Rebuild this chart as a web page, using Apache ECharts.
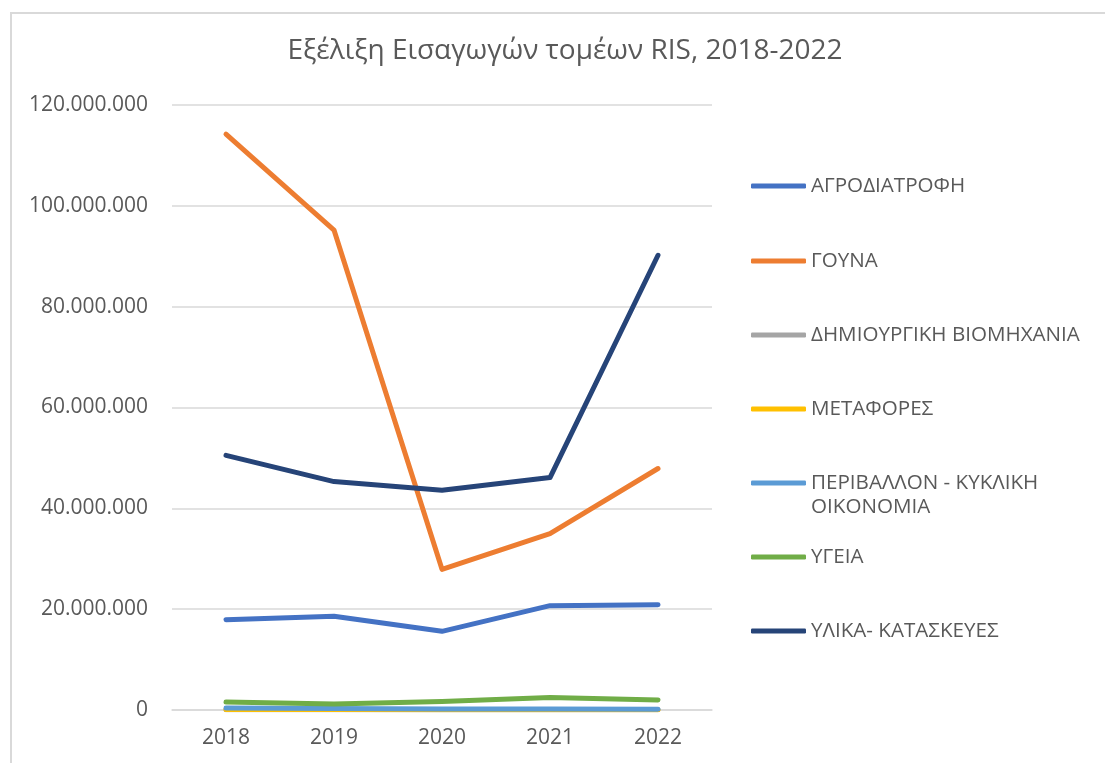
<!DOCTYPE html>
<html>
<head>
<meta charset="utf-8">
<title>Εξέλιξη Εισαγωγών τομέων RIS</title>
<script src="https://cdn.jsdelivr.net/npm/echarts@6/dist/echarts.min.js"></script>
<style>
  html, body { margin: 0; padding: 0; background: #fff; overflow: hidden; }
  .frame {
    position: absolute; left: 10px; top: 12px;
    width: 1200px; height: 900px;
    border: 2px solid #d9d9d9;
  }
  #chart { position: absolute; left: 0; top: 0; width: 1105px; height: 763px; }
</style>
</head>
<body>
<div class="frame"></div>
<div id="chart"></div>
<script>
// Έτη
const years = ['2018', '2019', '2020', '2021', '2022']

// Εισαγωγές ανά τομέα (€)
const agro = [17900000, 18600000, 15600000, 20700000, 20900000]
const fur = [114200000, 95200000, 27900000, 35000000, 47900000]
const creative = [60000, 50000, 40000, 50000, 40000]
const transport = [100000, 80000, 30000, 40000, 50000]
const environment = [400000, 300000, 200000, 200000, 150000]
const health = [1600000, 1200000, 1700000, 2500000, 2000000]
const materials = [50500000, 45300000, 43600000, 46100000, 90200000]

const seriesNames = [
	'ΑΓΡΟΔΙΑΤΡΟΦΗ',
	'ΓΟΥΝΑ',
	'ΔΗΜΙΟΥΡΓΙΚΗ ΒΙΟΜΗΧΑΝΙΑ',
	'ΜΕΤΑΦΟΡΕΣ',
	'ΠΕΡΙΒΑΛΛΟΝ - ΚΥΚΛΙΚΗ ΟΙΚΟΝΟΜΙΑ',
	'ΥΓΕΙΑ',
	'ΥΛΙΚΑ- ΚΑΤΑΣΚΕΥΕΣ'
]
const seriesData = [agro, fur, creative, transport, environment, health, materials]
const colors = ['#4472C4', '#ED7D31', '#A5A5A5', '#FFC000', '#5B9BD5', '#70AD47', '#264478']

const textColor = '#595959'
const font = '"Open Sans", "Noto Sans", sans-serif'

// 120000000 -> 120.000.000
function fmt(v) {
	return String(v).replace(/\B(?=(\d{3})+(?!\d))/g, '.')
}

// ένα legend ανά σειρά ώστε να μπαίνουν σε σταθερές θέσεις
const legendCenters = [186, 261, 335, 409, 483, 557, 631]
const legends = seriesNames.map((name, i) => {
	const twoLine = i === 4
	const lineH = 24
	return {
		orient: 'vertical',
		left: 751,
		padding: 0,
		top: twoLine ? legendCenters[i] - lineH * 1.5 : legendCenters[i] - lineH / 2,
		icon: 'roundRect',
		itemWidth: 55,
		itemHeight: 5,
		selectedMode: false,
		data: [name],
		formatter: twoLine
			? () => ' \nΠΕΡΙΒΑΛΛΟΝ - ΚΥΚΛΙΚΗ\nΟΙΚΟΝΟΜΙΑ'
			: n => n,
		textStyle: {
			color: textColor,
			fontSize: 20.6,
			fontFamily: font,
			lineHeight: lineH
		}
	}
})

const myEchart = echarts.init(document.getElementById('chart'))
const option = {
	animation: false,
	color: colors,
	title: {
		text: 'Εξέλιξη Εισαγωγών τομέων RIS, 2018-2022',
		left: 560,
		textAlign: 'center',
		top: 32,
		textStyle: {
			color: textColor,
			fontSize: 28,
			fontWeight: 'normal',
			fontFamily: font
		}
	},
	legend: legends,
	grid: {
		left: 172,
		right: 393,
		top: 105,
		bottom: 53,
		containLabel: false
	},
	xAxis: {
		type: 'category',
		boundaryGap: true,
		data: years,
		axisLine: {
			show: true,
			lineStyle: { color: '#d9d9d9', width: 1.5 }
		},
		axisTick: { show: false },
		axisLabel: {
			color: textColor,
			fontSize: 21,
			fontFamily: font,
			margin: 18
		}
	},
	yAxis: {
		type: 'value',
		min: 0,
		max: 120000000,
		interval: 20000000,
		axisLine: { show: false },
		axisTick: { show: false },
		axisLabel: {
			color: textColor,
			fontSize: 21,
			fontFamily: font,
			margin: 24,
			formatter: v => fmt(v)
		},
		splitLine: {
			show: true,
			lineStyle: { color: '#d9d9d9', width: 1.5 }
		}
	},
	series: seriesNames.map((name, i) => ({
		name: name,
		type: 'line',
		data: seriesData[i],
		showSymbol: false,
		symbol: 'none',
		lineStyle: {
			width: 5,
			color: colors[i],
			cap: 'round',
			join: 'round'
		},
		itemStyle: { color: colors[i] }
	}))
}
myEchart.setOption(option)
</script>
</body>
</html>
